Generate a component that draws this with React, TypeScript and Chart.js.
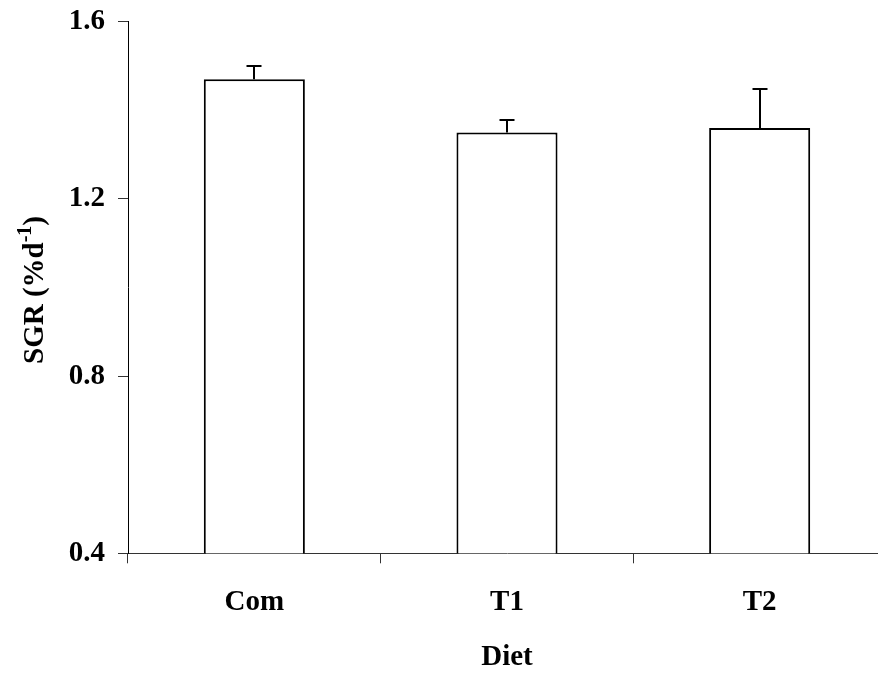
import React, { useEffect, useRef } from 'react';
import { Chart, registerables } from 'chart.js';

Chart.register(...registerables);

// ---- data ----
const categories = ['Com', 'T1', 'T2'];
const sgrValues = [1.47, 1.35, 1.36];
const sgrErrors = [0.03, 0.028, 0.088];
const yTicks = [0.4, 0.8, 1.2, 1.6];
const xTitle = 'Diet';
const yTitleMain = 'SGR (%d';
const yTitleSup = '-1';
const yTitleEnd = ')';

const FONT = "'Liberation Serif', 'Times New Roman', Times, serif";

const errorBarPlugin = {
  id: 'errorBars',
  afterDatasetsDraw(chart: any) {
    const meta = chart.getDatasetMeta(0);
    const yScale = chart.scales.y;
    const ctx = chart.ctx;
    ctx.save();
    ctx.strokeStyle = '#000';
    ctx.lineWidth = 2;
    meta.data.forEach((bar: any, i: number) => {
      const x = Math.round(bar.x);
      const top = yScale.getPixelForValue(sgrValues[i] + sgrErrors[i]);
      const base = bar.y;
      ctx.beginPath();
      ctx.moveTo(x, base);
      ctx.lineTo(x, top);
      ctx.moveTo(x - 7.5, top);
      ctx.lineTo(x + 7.5, top);
      ctx.stroke();
    });
    ctx.restore();
  },
};

const yTitlePlugin = {
  id: 'yTitleSup',
  afterDraw(chart: any) {
    const ctx = chart.ctx;
    const area = chart.chartArea;
    const cy = (area.top + area.bottom) / 2 + 2.5;
    const mainFont = `bold 29px ${FONT}`;
    const supFont = `bold 20px ${FONT}`;
    ctx.save();
    ctx.translate(43, cy);
    ctx.rotate(-Math.PI / 2);
    ctx.fillStyle = '#000';
    ctx.textBaseline = 'alphabetic';
    ctx.textAlign = 'left';
    ctx.font = mainFont;
    const w1 = ctx.measureText(yTitleMain).width;
    const w3 = ctx.measureText(yTitleEnd).width;
    ctx.font = supFont;
    const w2 = ctx.measureText(yTitleSup).width;
    let x = -(w1 + w2 + w3) / 2;
    ctx.font = mainFont;
    ctx.fillText(yTitleMain, x, 0);
    x += w1;
    ctx.font = supFont;
    ctx.fillText(yTitleSup, x, -12);
    x += w2;
    ctx.font = mainFont;
    ctx.fillText(yTitleEnd, x, 0);
    ctx.restore();
  },
};

export default function App() {
  const canvasRef = useRef<HTMLCanvasElement | null>(null);

  useEffect(() => {
    if (!canvasRef.current) return;
    const tickFont = { family: FONT, size: 29, weight: 'bold' as const };
    const chart = new Chart(canvasRef.current, {
      type: 'bar',
      data: {
        labels: categories,
        datasets: [
          {
            data: sgrValues,
            backgroundColor: '#ffffff',
            borderColor: '#000000',
            borderWidth: 2,
            categoryPercentage: 1,
            barPercentage: 0.4,
          },
        ],
      },
      options: {
        responsive: false,
        animation: false,
        layout: { padding: { top: 21.7, left: 0, right: 0, bottom: 0 } },
        plugins: {
          legend: { display: false },
          tooltip: { enabled: false },
          title: { display: false },
        },
        scales: {
          x: {
            grid: {
              display: true,
              drawOnChartArea: false,
              drawTicks: true,
              tickLength: 10,
              color: '#333',
              offset: true,
            },
            border: { display: true, color: '#333', width: 1 },
            ticks: { color: '#000', font: tickFont, padding: 22 },
            title: {
              display: true,
              text: xTitle,
              color: '#000',
              font: tickFont,
              padding: { top: 0, bottom: -2 },
            },
            afterFit: (s: any) => {
              s.height = 119.7;
              s.paddingLeft = 0;
              s.paddingRight = 0;
            },
          },
          y: {
            min: 0.4,
            max: 1.6,
            afterBuildTicks: (s: any) => {
              s.ticks = yTicks.map((v) => ({ value: v }));
            },
            ticks: {
              color: '#000',
              font: tickFont,
              padding: 13,
              callback: (v: any) => Number(v).toFixed(1),
            },
            grid: {
              display: true,
              drawOnChartArea: false,
              drawTicks: true,
              tickLength: 10,
              color: '#333',
            },
            border: { display: true, color: '#000', width: 1 },
            afterFit: (s: any) => {
              s.width = 128;
              s.paddingTop = 0;
              s.paddingBottom = 0;
            },
          },
        },
      },
      plugins: [errorBarPlugin, yTitlePlugin],
    });
    return () => chart.destroy();
  }, []);

  return (
    <div
      style={{
        position: 'fixed',
        left: 0,
        top: 0,
        width: 878,
        height: 673,
        overflow: 'hidden',
        background: '#fff',
      }}
    >
      <canvas
        ref={canvasRef}
        width={886}
        height={673}
        style={{ display: 'block', width: 886, height: 673 }}
      />
    </div>
  );
}
